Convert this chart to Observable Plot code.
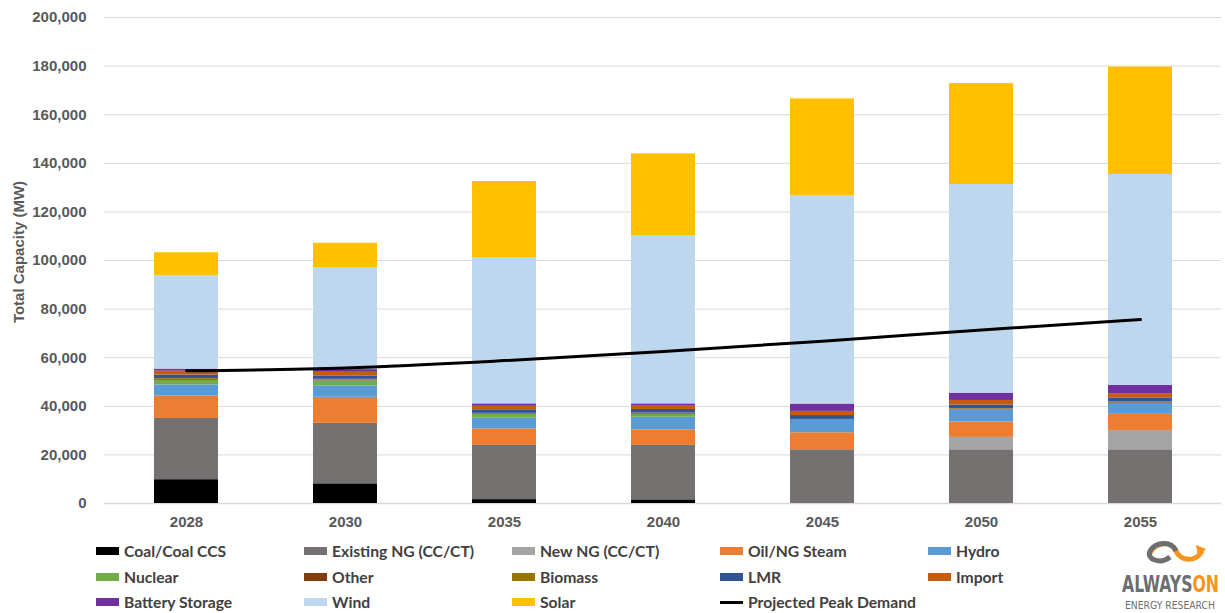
<!DOCTYPE html>
<html><head><meta charset="utf-8">
<script src="https://cdn.jsdelivr.net/npm/d3@7"></script>
<script src="https://cdn.jsdelivr.net/npm/@observablehq/plot@0.6"></script>
<style>
body{margin:0;background:#fff;width:1225px;height:613px;overflow:hidden;position:relative;}
#chart{position:absolute;left:0;top:0}
#ylabel{position:absolute;left:18px;top:252px;transform:translate(-50%,-50%) rotate(-90deg);font:bold 15px "Liberation Sans",Arial,sans-serif;color:#595959;white-space:nowrap}
.item{position:absolute;display:flex;align-items:center;font-family:Lato,sans-serif;font-weight:bold;font-size:15.7px;color:#404040;white-space:nowrap;transform:translateY(-50%)}
.sw{width:23px;height:8px;margin-right:5px}
.ln{width:23px;height:3px;margin-right:5px;background:#000}
#logo{position:absolute;left:1118px;top:536px}
</style></head>
<body>
<div id="chart"></div>
<div id="ylabel">Total Capacity (MW)</div>
<div id="legend"></div>
<svg id="logo" width="104" height="76" viewBox="0 0 104 76">
  <path d="M32 17 C38 5, 54 5, 58 15 C62 25, 78 27, 84 15" fill="none" stroke="#f7941d" stroke-width="5"/>
  <path d="M58 15 C54 5, 38 5, 32 15 C28 23, 42 29, 52 21" fill="none" stroke="#6d6e71" stroke-width="5"/>
  <path d="M78 9 L88 13 L80 21 Z" fill="#f7941d"/>
  <g transform="translate(4,56) scale(1,1.3)">
    <text x="0" y="0" textLength="97" lengthAdjust="spacingAndGlyphs" font-family="DejaVu Sans Condensed, Roboto, sans-serif" font-weight="bold" font-size="17" fill="#6d6e71">ALWAYS<tspan fill="#f7941d">ON</tspan></text>
  </g>
  <g transform="translate(7,73) scale(1,1.1)">
    <text x="0" y="0" font-family="DejaVu Sans Condensed, sans-serif" font-size="10.3" fill="#6d6e71">ENERGY RESEARCH</text>
  </g>
</svg>
<script>
const years = ["2028","2030","2035","2040","2045","2050","2055"];
const seriesNames = ["Coal/Coal CCS","Existing NG (CC/CT)","New NG (CC/CT)","Oil/NG Steam","Hydro","Nuclear","Other","Biomass","LMR","Import","Battery Storage","Wind","Solar"];
const seriesColors = ["#000000","#767171","#a5a5a5","#ed7d31","#5b9bd5","#70ad47","#843c0c","#997300","#2f5597","#c55a11","#7030a0","#bdd7ee","#ffc000"];
const coal       = [9800, 8100, 1600, 1500, 0, 0, 0];
const existingNG = [25200, 24900, 22300, 22400, 22100, 22100, 22100];
const newNG      = [0, 0, 0, 0, 0, 5100, 7900];
const oilSteam   = [9200, 10700, 6800, 6400, 7000, 6300, 6700];
const hydro      = [4600, 4700, 4400, 5200, 5100, 5100, 4600];
const nuclear    = [1900, 2100, 1500, 1200, 0, 0, 0];
const other      = [400, 300, 300, 300, 200, 300, 300];
const biomass    = [300, 300, 200, 200, 200, 200, 200];
const lmr        = [1500, 1400, 1200, 1500, 1600, 1400, 1500];
const imports    = [1600, 1500, 1700, 1600, 1700, 1900, 1700];
const battery    = [800, 1100, 1000, 700, 3000, 3000, 3600];
const wind       = [38400, 42000, 60200, 69300, 85700, 85900, 86800];
const solar      = [9500, 10000, 31300, 33600, 39900, 41500, 44200];
const peakDemand = [54600, 55800, 58800, 62600, 66800, 71400, 75700];
const yTicks = [0,20000,40000,60000,80000,100000,120000,140000,160000,180000,200000];

const seriesValues = [coal, existingNG, newNG, oilSteam, hydro, nuclear, other, biomass, lmr, imports, battery, wind, solar];
const rows = [];
seriesNames.forEach((s, si) => years.forEach((y, yi) => rows.push({year: y, series: s, value: seriesValues[si][yi]})));
const demand = years.map((y, i) => ({year: y, value: peakDemand[i]}));

const font = '"Liberation Sans", Arial, sans-serif';
const chart = Plot.plot({
  width: 1225, height: 535,
  marginLeft: 104, marginRight: 4, marginTop: 17, marginBottom: 32,
  style: {fontFamily: font, fontSize: "15px", fontWeight: "bold", color: "#595959", background: "#fff"},
  x: {domain: years, paddingInner: 0.6, paddingOuter: 0.3, label: null},
  y: {domain: [0, 200000], label: null},
  color: {domain: seriesNames, range: seriesColors},
  marks: [
    Plot.gridY(yTicks, {stroke: "#d9d9d9", strokeOpacity: 1, strokeWidth: 1}),
    Plot.ruleY([0], {stroke: "#d9d9d9", strokeWidth: 1.5}),
    Plot.barY(rows, {x: "year", y: "value", fill: "series", order: seriesNames}),
    Plot.line(demand, {x: "year", y: "value", stroke: "#000", strokeWidth: 3, curve: "monotone-x"}),
    Plot.axisY(yTicks, {tickSize: 0, tickPadding: 18, tickFormat: d3.format(","), fill: "#595959"}),
    Plot.axisX({tickSize: 0, tickPadding: 13, fill: "#595959"})
  ]
});
document.getElementById("chart").appendChild(chart);

const legend = document.getElementById("legend");
const legendItems = seriesNames.map((s, i) => ({name: s, color: seriesColors[i], line: false}));
legendItems.push({name: "Projected Peak Demand", color: "#000", line: true});
legendItems.forEach((it, i) => {
  const col = i % 5, row = Math.floor(i / 5);
  const d = document.createElement("div");
  d.className = "item";
  d.style.left = (96 + col * 208) + "px";
  d.style.top = (551 + row * 25.5) + "px";
  const sw = document.createElement("span");
  sw.className = it.line ? "ln" : "sw";
  if (!it.line) sw.style.background = it.color;
  d.appendChild(sw);
  d.appendChild(document.createTextNode(it.name));
  legend.appendChild(d);
});
</script>
</body></html>
